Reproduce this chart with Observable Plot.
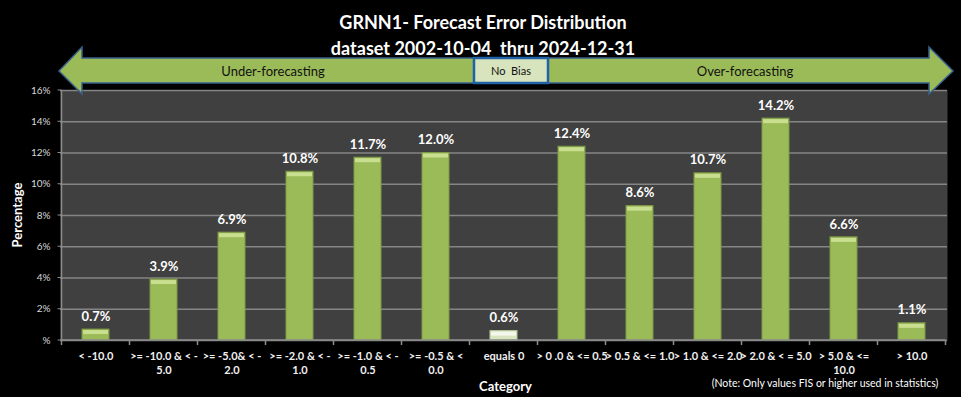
<!DOCTYPE html>
<html><head><meta charset="utf-8">
<script src="https://cdn.jsdelivr.net/npm/d3@7"></script>
<script src="https://cdn.jsdelivr.net/npm/@observablehq/plot@0.6"></script>
<style>html,body{margin:0;padding:0;background:#000;overflow:hidden;}</style>
</head><body><div id="chart"></div>
<script>
const categories = ["< -10.0", ">= -10.0 & < -5.0", ">= -5.0& < -2.0", ">= -2.0 & < -1.0", ">= -1.0 & < -0.5", ">= -0.5 & < 0.0", "equals 0", "> 0 .0 & <= 0.5", "> 0.5 & <= 1.0", "> 1.0 & <= 2.0", "> 2.0 & < = 5.0", "> 5.0 & <= 10.0", "> 10.0"];
const tickLabels = ["< -10.0", ">= -10.0 & < -\n5.0", ">= -5.0& < -\n2.0", ">= -2.0 & < -\n1.0", ">= -1.0 & < -\n0.5", ">= -0.5 & <\n0.0", "equals 0", "> 0 .0 & <= 0.5", "> 0.5 & <= 1.0", "> 1.0 & <= 2.0", "> 2.0 & < = 5.0", "> 5.0 & <=\n10.0", "> 10.0"];
const values = [0.7, 3.9, 6.9, 10.8, 11.7, 12.0, 0.6, 12.4, 8.6, 10.7, 14.2, 6.6, 1.1];
const yTicks = [0, 2, 4, 6, 8, 10, 12, 14, 16];
const yTickLabels = ["%", "2%", "4%", "6%", "8%", "10%", "12%", "14%", "16%"];
const titleLines = ["GRNN1- Forecast Error Distribution", "dataset 2002-10-04  thru 2024-12-31"];
const arrowLabels = ["Under-forecasting", "No  Bias", "Over-forecasting"];
const xTitle = "Category";
const yTitle = "Percentage";
const note = "(Note: Only values FIS or higher used in statistics)";

const data = categories.map((c, i) => ({category: c, label: tickLabels[i], value: values[i]}));
const labelOf = new Map(categories.map((c, i) => [c, tickLabels[i]]));
const yLabelOf = new Map(yTicks.map((t, i) => [t, yTickLabels[i]]));
const isZero = d => d.category === "equals 0";

const W = 961, H = 397;
const chart = Plot.plot({
  width: W, height: H,
  marginTop: 90, marginBottom: 57, marginLeft: 60, marginRight: 14,
  style: {background: "#000", color: "#fff", fontFamily: "Lato, 'Open Sans', sans-serif", overflow: "visible"},
  x: {domain: categories, paddingInner: 0.6, paddingOuter: 0.3, label: null},
  y: {domain: [0, 16], label: null},
  marks: [
    Plot.frame({fill: "#404040", stroke: null}),
    Plot.gridY(yTicks, {stroke: "#858585", strokeOpacity: 1, strokeWidth: 1.5}),
    Plot.barY(data, {x: "category", y: "value", fill: d => isZero(d) ? "#d9e5c0" : "#9bbb59", stroke: d => isZero(d) ? "#b9c9a0" : "#7f9a45", strokeWidth: 1}),
    Plot.tickY(data, {x: "category", y: "value", stroke: d => isZero(d) ? "#f4f8ec" : "#c9df8f", strokeWidth: 4, dy: 2.5, inset: 1}),
    Plot.text(data, {x: "category", y: "value", text: d => d.value.toFixed(1) + "%", dy: -13, fill: "#fff", fontWeight: "bold", fontSize: 13}),
    Plot.axisX({tickSize: 0, tickPadding: 10, tickFormat: c => labelOf.get(c), fontWeight: "bold", fontSize: 11, lineHeight: 1.27, fill: "#f0f0f0", label: null}),
    Plot.axisY(yTicks, {tickSize: 0, tickPadding: 10, tickFormat: t => yLabelOf.get(t), fontSize: 10, fill: "#d9d9d9", label: null})
  ]
});
document.getElementById("chart").appendChild(chart);

const svg = d3.select(chart);
const xs = chart.scale("x"), ys = chart.scale("y");
const step = xs.step, bw = xs.bandwidth;
const x0 = xs.apply(categories[0]) + bw / 2 - step / 2;
const xEnd = xs.apply(categories[categories.length - 1]) + bw / 2 + step / 2;
const yBase = ys.apply(0), yTop = ys.apply(16);
// axis lines
const g = svg.append("g");
g.append("line").attr("x1", x0).attr("x2", x0).attr("y1", yTop).attr("y2", yBase).attr("stroke", "#8c8c8c").attr("stroke-width", 1.5);
g.append("line").attr("x1", x0).attr("x2", xEnd).attr("y1", yBase).attr("y2", yBase).attr("stroke", "#8c8c8c").attr("stroke-width", 1.5);
for (let i = 0; i <= categories.length; i++) {
  const bx = x0 + i * step;
  g.append("line").attr("x1", bx).attr("x2", bx).attr("y1", yBase).attr("y2", yBase + 5).attr("stroke", "#8c8c8c").attr("stroke-width", 1.5);
}
for (const t of yTicks) {
  g.append("line").attr("x1", x0 - 4).attr("x2", x0).attr("y1", ys.apply(t)).attr("y2", ys.apply(t)).attr("stroke", "#8c8c8c").attr("stroke-width", 1);
}
// titles
const font = "Lato, 'Open Sans', sans-serif";
svg.append("text").attr("x", 483).attr("y", 29).attr("text-anchor", "middle").attr("fill", "#fff").attr("font-family", font).attr("font-weight", "bold").attr("font-size", 18).text(titleLines[0]);
svg.append("text").attr("x", 483).attr("y", 55).attr("text-anchor", "middle").attr("fill", "#fff").attr("font-family", font).attr("font-weight", "bold").attr("font-size", 18).text(titleLines[1]);
svg.append("text").attr("x", (x0 + xEnd) / 2 + 2).attr("y", 391).attr("text-anchor", "middle").attr("fill", "#fff").attr("font-family", font).attr("font-weight", "bold").attr("font-size", 13).text(xTitle);
svg.append("text").attr("transform", `translate(22,${(yTop + yBase) / 2}) rotate(-90)`).attr("text-anchor", "middle").attr("fill", "#fff").attr("font-family", font).attr("font-weight", "bold").attr("font-size", 13).text(yTitle);
svg.append("text").attr("x", 825).attr("y", 387).attr("text-anchor", "middle").attr("fill", "#fff").attr("font-family", font).attr("font-size", 10.5).text(note);
// arrow
const aTop = 58, aBot = 83, aMid = 71, hTop = 47, hBot = 94;
const lt = 59, lb = 82, rb = 929, rt = 953;
const pts = [[lt, aMid], [lb, hTop], [lb, aTop], [rb, aTop], [rb, hTop], [rt, aMid], [rb, hBot], [rb, aBot], [lb, aBot], [lb, hBot]];
svg.append("path").attr("d", "M" + pts.map(p => p.join(",")).join("L") + "Z").attr("fill", "#9bbb59").attr("stroke", "#3a5f8c").attr("stroke-width", 1.5);
svg.append("rect").attr("x", 474).attr("y", aTop).attr("width", 74).attr("height", aBot - aTop).attr("fill", "#d7e4bd").attr("stroke", "#1f62a6").attr("stroke-width", 2.5);
svg.append("text").attr("x", 273).attr("y", aMid + 5).attr("text-anchor", "middle").attr("fill", "#111").attr("font-family", font).attr("font-size", 13).text(arrowLabels[0]);
svg.append("text").attr("x", 511).attr("y", aMid + 4).attr("text-anchor", "middle").attr("fill", "#111").attr("font-family", font).attr("font-size", 11).attr("xml:space", "preserve").style("white-space", "pre").text(arrowLabels[1]);
svg.append("text").attr("x", 745).attr("y", aMid + 5).attr("text-anchor", "middle").attr("fill", "#111").attr("font-family", font).attr("font-size", 13).text(arrowLabels[2]);
</script>
</body></html>
